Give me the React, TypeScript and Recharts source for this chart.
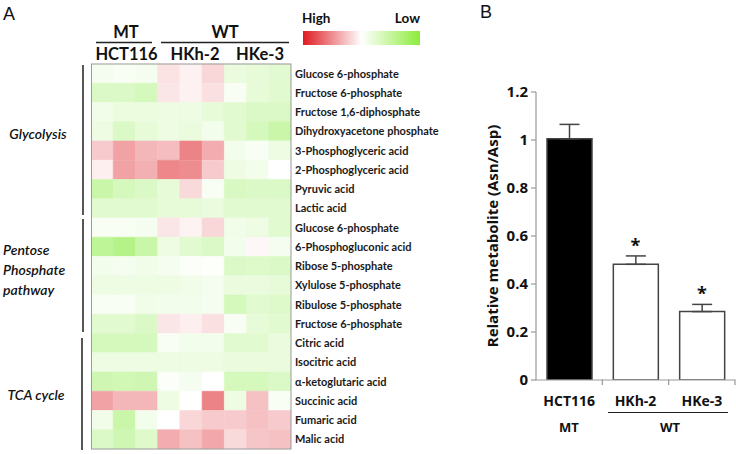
import React from 'react';
import { BarChart, Bar, XAxis, YAxis, Cell, ComposedChart, ErrorBar, Scatter, Label } from 'recharts';

// ---------- Panel A data ----------
const metabolites = [
  'Glucose 6-phosphate',
  'Fructose 6-phosphate',
  'Fructose 1,6-diphosphate',
  'Dihydroxyacetone phosphate',
  '3-Phosphoglyceric acid',
  '2-Phosphoglyceric acid',
  'Pyruvic acid',
  'Lactic acid',
  'Glucose 6-phosphate',
  '6-Phosphogluconic acid',
  'Ribose 5-phosphate',
  'Xylulose 5-phosphate',
  'Ribulose 5-phosphate',
  'Fructose 6-phosphate',
  'Citric acid',
  'Isocitric acid',
  'α-ketoglutaric acid',
  'Succinic acid',
  'Fumaric acid',
  'Malic acid',
];

const sampleColumns = ['HCT116 #1', 'HCT116 #2', 'HCT116 #3', 'HKh-2 #1', 'HKh-2 #2', 'HKh-2 #3', 'HKe-3 #1', 'HKe-3 #2', 'HKe-3 #3'];

// positive = high (red), negative = low (green)
const heatValues = [
  [-0.08, -0.06, -0.08, 0.14, 0.07, 0.2, -0.18, -0.2, -0.24],
  [-0.3, -0.3, -0.35, 0.12, 0.07, 0.15, -0.05, -0.2, -0.25],
  [-0.12, -0.17, -0.17, -0.15, -0.15, -0.2, -0.25, -0.3, -0.3],
  [-0.15, -0.3, -0.2, -0.15, -0.18, -0.1, -0.25, -0.35, -0.45],
  [0.25, 0.45, 0.35, 0.32, 0.6, 0.4, -0.1, -0.05, -0.15],
  [0.08, 0.45, 0.38, 0.58, 0.55, 0.25, -0.15, -0.1, 0.0],
  [-0.45, -0.35, -0.3, -0.2, 0.18, -0.05, -0.32, -0.3, -0.3],
  [-0.25, -0.25, -0.25, -0.2, -0.2, -0.18, -0.25, -0.25, -0.25],
  [-0.05, -0.05, -0.08, 0.12, 0.06, 0.2, -0.12, -0.15, -0.25],
  [-0.55, -0.62, -0.45, -0.15, -0.25, -0.3, -0.1, 0.04, -0.08],
  [-0.1, -0.08, -0.12, -0.08, -0.03, -0.02, -0.3, -0.28, -0.3],
  [-0.15, -0.15, -0.15, -0.15, -0.12, -0.08, -0.18, -0.18, -0.2],
  [-0.05, -0.05, -0.12, -0.1, -0.1, -0.08, -0.35, -0.25, -0.28],
  [-0.25, -0.25, -0.3, 0.12, 0.08, 0.15, -0.05, -0.2, -0.25],
  [-0.35, -0.35, -0.35, -0.05, -0.1, -0.1, -0.25, -0.25, -0.18],
  [-0.15, -0.15, -0.15, -0.15, -0.15, -0.15, -0.18, -0.18, -0.18],
  [-0.4, -0.38, -0.4, -0.03, -0.08, 0.0, -0.35, -0.35, -0.3],
  [0.45, 0.35, 0.35, -0.15, 0.0, 0.6, -0.15, 0.3, -0.05],
  [-0.12, -0.45, -0.1, 0.0, 0.2, 0.25, 0.25, 0.3, 0.25],
  [-0.3, -0.4, -0.28, 0.4, 0.3, 0.42, 0.18, 0.28, 0.3],
];

const groupLabels = ['MT', 'WT'];
const cellLineLabels = ['HCT116', 'HKh-2', 'HKe-3'];
const pathwayLabels = ['Glycolysis', 'Pentose', 'Phosphate', 'pathway', 'TCA cycle'];

// ---------- Panel B data ----------
const barCategories = ['HCT116', 'HKh-2', 'HKe-3'];
const barValues = [1.005, 0.482, 0.285];
const barErrors = [0.06, 0.035, 0.03];
const barSignificant = [false, true, true];
const yTicks = [0, 0.2, 0.4, 0.6, 0.8, 1, 1.2];

const RED = [224, 48, 54];
const GREEN = [136, 236, 64];
function heatColor(v: number): string {
  const base = v >= 0 ? RED : GREEN;
  const t = Math.min(1, Math.abs(v));
  const c = base.map((b) => Math.round(255 + (b - 255) * t));
  return `rgb(${c[0]},${c[1]},${c[2]})`;
}

const heatData = metabolites.map((name, i) => {
  const row: any = { name, idx: i };
  sampleColumns.forEach((_, j) => {
    row[`c${j}`] = 1;
  });
  return row;
});

const barData = barCategories.map((name, i) => ({
  name,
  value: barValues[i],
  err: [0, barErrors[i]],
  starY: barSignificant[i] ? barValues[i] + barErrors[i] : null,
}));

const FONT = 'Lato, "Open Sans", sans-serif';
const BFONT = '"Open Sans", Lato, sans-serif';

const StarShape = (props: any) => {
  if (props.cx == null || props.cy == null) return <g />;
  return (
    <text x={props.cx} y={props.cy - 4} textAnchor="middle" fontSize={18} fontWeight={700} fontFamily={BFONT} fill="#111">
      *
    </text>
  );
};

const RowTick = (props: any) => {
  const { x, y, payload } = props;
  return (
    <text x={x} y={y} dy={4} textAnchor="start" fontSize={11} fontWeight={700} fontFamily={FONT} fill="#1a1a1a">
      {payload.value}
    </text>
  );
};

const CatTick = (props: any) => {
  const { x, y, payload } = props;
  const half = payload && typeof payload.offset === 'number' ? payload.offset : 0;
  return (
    <g>
      {half > 0 && <line x1={x + half} x2={x + half} y1={y - 0.5} y2={y + 5} stroke="#999" strokeWidth={1.2} />}
      <text x={x} y={y + 26} textAnchor="middle" fontSize={14} fontWeight={700} fontFamily={BFONT} fill="#111">
        {payload.value}
      </text>
    </g>
  );
};

export default function App() {
  return (
    <div style={{ position: 'absolute', left: 0, top: 0, width: 736, height: 454, background: '#fff', overflow: 'hidden' }}>
      <div style={{ position: 'absolute', left: 0, top: 0 }}>
        <BarChart
          width={440}
          height={454}
          data={heatData}
          layout="vertical"
          barCategoryGap={0}
          barGap={0}
          margin={{ top: 64, right: 0, bottom: 5, left: 91 }}
        >
          <XAxis type="number" domain={[0, 9]} hide allowDataOverflow />
          <YAxis
            type="category"
            dataKey="name"
            orientation="right"
            width={149}
            axisLine={false}
            tickLine={false}
            tickSize={2}
            tickMargin={2}
            interval={0}
            allowDuplicatedCategory
            tick={RowTick}
          />
          {sampleColumns.map((col, j) => (
            <Bar key={col} dataKey={`c${j}`} name={col} stackId="h" isAnimationActive={false}>
              {heatValues.map((row, i) => (
                <Cell key={i} fill={heatColor(row[j])} stroke={heatColor(row[j])} strokeWidth={0.6} />
              ))}
            </Bar>
          ))}
        </BarChart>
      </div>

      <div style={{ position: 'absolute', left: 440, top: 0 }}>
        <ComposedChart width={296} height={454} data={barData} margin={{ top: 92, right: 1, bottom: 24, left: 0 }}>
          <XAxis
            dataKey="name"
            height={50}
            tickLine={false}
            tickSize={0}
            tickMargin={0}
            axisLine={{ stroke: '#999', strokeWidth: 1.2 }}
            tick={CatTick}
            interval={0}
          />
          <YAxis
            domain={[0, 1.2]}
            ticks={yTicks}
            interval={0}
            allowDataOverflow
            width={96}
            tickSize={5}
            tickMargin={3}
            axisLine={{ stroke: '#999', strokeWidth: 1.2 }}
            tickLine={{ stroke: '#999', strokeWidth: 1.2 }}
            tick={{ fontSize: 15, fontWeight: 700, fill: '#111', fontFamily: BFONT }}
          >
            <Label
              value="Relative metabolite (Asn/Asp)"
              angle={-90}
              position="center"
              dx={5}
              fontSize={15}
              fontWeight={700}
              fontFamily={BFONT}
              fill="#111"
            />
          </YAxis>
          <Bar dataKey="value" barSize={45} stroke="#444" strokeWidth={1.5} isAnimationActive={false}>
            {barData.map((d, i) => (
              <Cell key={d.name} fill={i === 0 ? '#000' : '#fff'} />
            ))}
            <ErrorBar dataKey="err" width={10} stroke="#444" strokeWidth={1.5} direction="y" />
          </Bar>
          <Scatter dataKey="starY" shape={<StarShape />} isAnimationActive={false} />
        </ComposedChart>
      </div>

      <svg width={736} height={454} style={{ position: 'absolute', left: 0, top: 0, pointerEvents: 'none' }}>
        <defs>
          <linearGradient id="legendGrad" x1="0" x2="1" y1="0" y2="0">
            <stop offset="0%" stopColor="rgb(222,28,34)" />
            <stop offset="50%" stopColor="#ffffff" />
            <stop offset="100%" stopColor="rgb(140,236,60)" />
          </linearGradient>
        </defs>
        {/* panel letters */}
        <text x={3} y={20} fontSize={18} fontFamily='"Liberation Sans", Arial, sans-serif' fill="#111">A</text>
        <text x={480} y={18} fontSize={18} fontFamily='"Liberation Sans", Arial, sans-serif' fill="#111">B</text>

        {/* heatmap column headers */}
        <text x={126} y={38} textAnchor="middle" fontSize={16.5} fontWeight={700} fontFamily={FONT} fill="#111">{groupLabels[0]}</text>
        <text x={225} y={38} textAnchor="middle" fontSize={16.5} fontWeight={700} fontFamily={FONT} fill="#111">{groupLabels[1]}</text>
        <line x1={96} x2={152} y1={42.5} y2={42.5} stroke="#222" strokeWidth={1.5} />
        <line x1={161} x2={289} y1={42.5} y2={42.5} stroke="#222" strokeWidth={1.5} />
        <text x={126.5} y={60} textAnchor="middle" fontSize={16.5} fontWeight={700} fontFamily={FONT} fill="#111">{cellLineLabels[0]}</text>
        <text x={195} y={60} textAnchor="middle" fontSize={16.5} fontWeight={700} fontFamily={FONT} fill="#111">{cellLineLabels[1]}</text>
        <text x={260} y={60} textAnchor="middle" fontSize={16.5} fontWeight={700} fontFamily={FONT} fill="#111">{cellLineLabels[2]}</text>

        {/* legend */}
        <text x={302} y={23} fontSize={13.5} fontWeight={700} fontFamily={FONT} fill="#111">High</text>
        <text x={420} y={23} textAnchor="end" fontSize={13.5} fontWeight={700} fontFamily={FONT} fill="#111">Low</text>
        <rect x={303} y={31} width={117} height={14} fill="url(#legendGrad)" />

        {/* heatmap border */}
        <rect x={91.5} y={64} width={199.5} height={385} fill="none" stroke="#9a9a9a" strokeWidth={1} />

        {/* pathway brackets */}
        <line x1={83} x2={83} y1={65} y2={215} stroke="#444" strokeWidth={1.8} />
        <line x1={83} x2={83} y1={219} y2={332} stroke="#444" strokeWidth={1.8} />
        <line x1={82} x2={82} y1={338} y2={450} stroke="#444" strokeWidth={1.8} />
        <text x={38} y={139} textAnchor="middle" fontSize={14} fontStyle="italic" fontWeight={600} fontFamily={FONT} fill="#111">{pathwayLabels[0]}</text>
        <text x={3} y={255} fontSize={14} fontStyle="italic" fontWeight={600} fontFamily={FONT} fill="#111">{pathwayLabels[1]}</text>
        <text x={3} y={275} fontSize={14} fontStyle="italic" fontWeight={600} fontFamily={FONT} fill="#111">{pathwayLabels[2]}</text>
        <text x={3} y={295} fontSize={14} fontStyle="italic" fontWeight={600} fontFamily={FONT} fill="#111">{pathwayLabels[3]}</text>
        <text x={36} y={400} textAnchor="middle" fontSize={14} fontStyle="italic" fontWeight={600} fontFamily={FONT} fill="#111">{pathwayLabels[4]}</text>

        {/* panel B group labels */}
        <text x={569} y={432} textAnchor="middle" fontSize={13} fontWeight={700} fontFamily={BFONT} fill="#111">{groupLabels[0]}</text>
        <text x={670} y={432} textAnchor="middle" fontSize={13} fontWeight={700} fontFamily={BFONT} fill="#111">{groupLabels[1]}</text>
        <line x1={608} x2={728} y1={412.5} y2={412.5} stroke="#222" strokeWidth={1.2} />
      </svg>
    </div>
  );
}
